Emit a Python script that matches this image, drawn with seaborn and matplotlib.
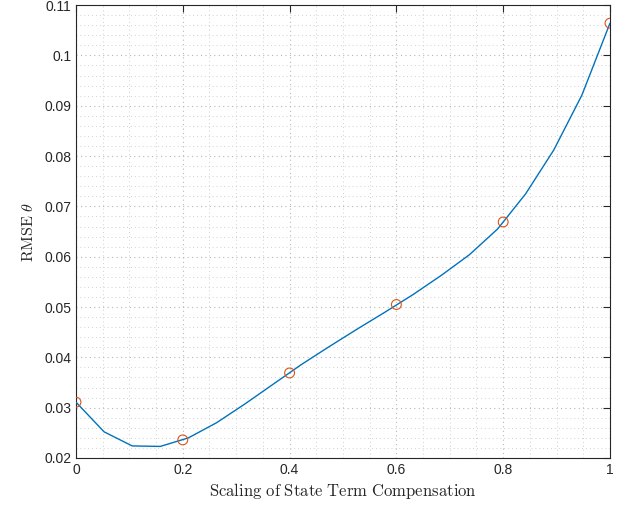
import numpy as np
import pandas as pd
import matplotlib
matplotlib.use("Agg")
import matplotlib.pyplot as plt
import seaborn as sns
from matplotlib.ticker import MultipleLocator

# ---- data ----
scale_fine = list(np.linspace(0, 1, 20))
rmse_fine = [0.0311, 0.0252, 0.0224, 0.0223, 0.0240, 0.0270, 0.0307, 0.0346,
             0.0385, 0.0421, 0.0456, 0.0490, 0.0525, 0.0563, 0.0604, 0.0655,
             0.0725, 0.0812, 0.0921, 0.1064]
scale_marks = [0.0, 0.2, 0.4, 0.6, 0.8, 1.0]
rmse_marks = [0.0311, 0.0236, 0.0369, 0.0505, 0.0669, 0.1064]
x_ticks = [0, 0.2, 0.4, 0.6, 0.8, 1]
x_ticklabels = ["0", "0.2", "0.4", "0.6", "0.8", "1"]
y_ticks = [0.02, 0.03, 0.04, 0.05, 0.06, 0.07, 0.08, 0.09, 0.10, 0.11]
y_ticklabels = ["0.02", "0.03", "0.04", "0.05", "0.06", "0.07", "0.08", "0.09", "0.1", "0.11"]

df_line = pd.DataFrame({"scale": scale_fine, "rmse": rmse_fine})
df_mark = pd.DataFrame({"scale": scale_marks, "rmse": rmse_marks})

sns.set_style("white")
plt.rcParams["font.family"] = ["Liberation Sans", "DejaVu Sans"]
plt.rcParams["mathtext.fontset"] = "cm"

fig = plt.figure(figsize=(6.28, 5.09), dpi=100)
ax = fig.add_axes([0.121, 0.1002, 0.8503, 0.8898])

sns.lineplot(data=df_line, x="scale", y="rmse", ax=ax, color="#0072BD",
             linewidth=1.0, zorder=3)
sns.scatterplot(data=df_mark, x="scale", y="rmse", ax=ax, marker="o",
                facecolor="none", edgecolor="#D95319", linewidth=0.8, s=50,
                zorder=4)

ax.set_xlim(0, 1)
ax.set_ylim(0.02, 0.11)
ax.set_xticks(x_ticks)
ax.set_xticklabels(x_ticklabels)
ax.set_yticks(y_ticks)
ax.set_yticklabels(y_ticklabels)
ax.xaxis.set_minor_locator(MultipleLocator(0.05))
ax.yaxis.set_minor_locator(MultipleLocator(0.002))

axis_col = "#262626"
ax.tick_params(which="major", direction="in", length=5, width=0.8,
               colors=axis_col, labelsize=10, top=True, right=True,
               labelcolor=axis_col)
ax.tick_params(which="minor", length=0, top=True, right=True)
for s in ax.spines.values():
    s.set_color(axis_col)
    s.set_linewidth(0.8)

ax.grid(which="major", color="#b8b8b8", linestyle=(0, (1, 3)), linewidth=0.8)
ax.grid(which="minor", color="#d0d0d0", linestyle=(0, (1, 3)), linewidth=0.7)
ax.set_axisbelow(True)

ax.set_xlabel(r"$\mathrm{Scaling\ of\ State\ Term\ Compensation}$",
              fontsize=12, color=axis_col, labelpad=3)
ax.set_ylabel(r"$\mathrm{RMSE}\ \theta$", fontsize=11.5, color=axis_col,
              labelpad=6)

fig.savefig("out.png", dpi=100)
